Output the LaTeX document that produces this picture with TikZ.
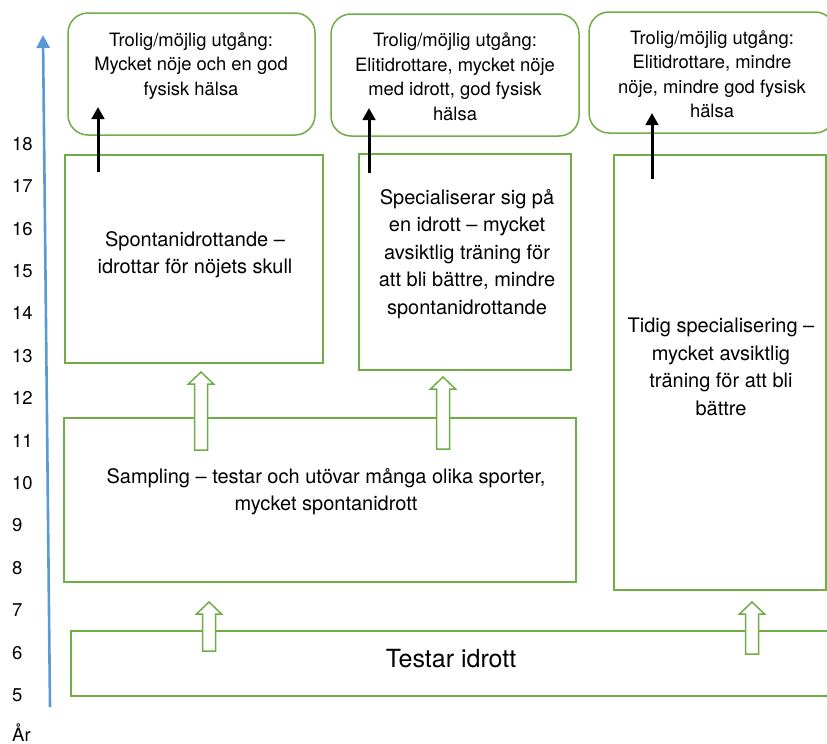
\documentclass[tikz,border=0pt]{standalone}
\usepackage{fontspec}
\setmainfont{TeX Gyre Heros}
\usetikzlibrary{arrows.meta}
\definecolor{grn}{RGB}{112,173,71}
\definecolor{axblue}{RGB}{91,155,213}
\newcommand{\hollowarrow}[3]{% x, tip y, base y
  \draw[hollow] (#1-6.5,#3) -- (#1-6.5,#2+12) -- (#1-12.5,#2+12) -- (#1,#2) -- (#1+12.5,#2+12) -- (#1+6.5,#2+12) -- (#1+6.5,#3) -- cycle;}
\begin{document}
\begin{tikzpicture}[x=1pt,y=-1pt,
  topbox/.style={draw=grn, line width=1.5pt, rounded corners=20pt, fill=white, inner sep=0pt},
  midbox/.style={draw=grn, line width=1.5pt, fill=white, inner sep=0pt},
  toptext/.style={align=center, font=\fontsize{18.4}{24.5}\selectfont, inner sep=0pt},
  midtext/.style={align=center, font=\fontsize{20}{27.5}\selectfont, inner sep=0pt},
  yr/.style={anchor=west, font=\fontsize{18.5}{20}\selectfont, inner sep=0pt},
  outarrow/.style={line width=3pt, -{Triangle[width=12.5pt,length=12pt]}},
  hollow/.style={draw=grn, line width=1.5pt, fill=white, line join=miter}
]
\clip (0,0) rectangle (827,744);
\fill[white] (0,0) rectangle (827,744);

% axis
\coordinate (axb) at (50,707);
\coordinate (axt) at (43,35);
\draw[axblue, line width=2.6pt, -{Triangle[width=13pt,length=13pt]}] (axb) -- (axt);
\foreach \n in {5,...,18} {
  \node[yr] (y\n) at (12,{695-(\n-5)*42.4}) {\n};
}
\node[yr, anchor=base west] (ar) at (12,741.5) {År};

% top boxes
\node[topbox, minimum width=247pt, minimum height=122pt] (o1) at (191.5,74) {};
\node[topbox, minimum width=248pt, minimum height=122pt] (o2) at (455,75) {};
\node[topbox, minimum width=246pt, minimum height=121pt] (o3) at (712,72.5) {};

% middle boxes
\node[midbox, minimum width=258pt, minimum height=208pt] (spont) at (194,259) {};
\node[midbox, minimum width=212pt, minimum height=216pt] (spec) at (465,262) {};
\node[midbox, minimum width=212pt, minimum height=435pt] (tidig) at (720,372.5) {};
\node[midbox, minimum width=512pt, minimum height=164pt] (samp) at (320,500) {};
\node[midbox, minimum width=760pt, minimum height=65pt] (test) at (451,663.5) {};

% hollow block arrows
\hollowarrow{201}{372}{450}
\hollowarrow{443}{377}{449}
\hollowarrow{209}{602}{651}
\hollowarrow{752}{602}{654}

% black arrows
\coordinate (b1s) at (98,172);  \coordinate (b1e) at (98,107);
\coordinate (b2s) at (369,173); \coordinate (b2e) at (369,108);
\coordinate (b3s) at (652,179); \coordinate (b3e) at (652,113);
\draw[outarrow] (b1s) -- (b1e);
\draw[outarrow] (b2s) -- (b2e);
\draw[outarrow] (b3s) -- (b3e);

% texts
\node[toptext] (t1) at (191,66) {Trolig/möjlig utgång:\\Mycket nöje och en god\\fysisk hälsa};
\node[toptext] (t2) at (455,76.5) {Trolig/möjlig utgång:\\Elitidrottare, mycket nöje\\med idrott, god fysisk\\hälsa};
\node[toptext] (t3) at (712,74) {Trolig/möjlig utgång:\\Elitidrottare, mindre\\nöje, mindre god fysisk\\hälsa};
\node[midtext] (ts) at (195,254.5) {Spontanidrottande –\\idrottar för nöjets skull};
\node[midtext] (tp) at (467,254) {Specialiserar sig på\\en idrott – mycket\\avsiktlig träning för\\att bli bättre, mindre\\spontanidrottande};
\node[midtext] (tt) at (721,367) {Tidig specialisering –\\mycket avsiktlig\\träning för att bli\\bättre};
\node[midtext] (tsa) at (326,491.5) {Sampling – testar och utövar många olika sporter,\\mycket spontanidrott};
\node[font=\fontsize{25}{30}\selectfont, inner sep=0pt] (tte) at (451,659) {Testar idrott};
\end{tikzpicture}
\end{document}
